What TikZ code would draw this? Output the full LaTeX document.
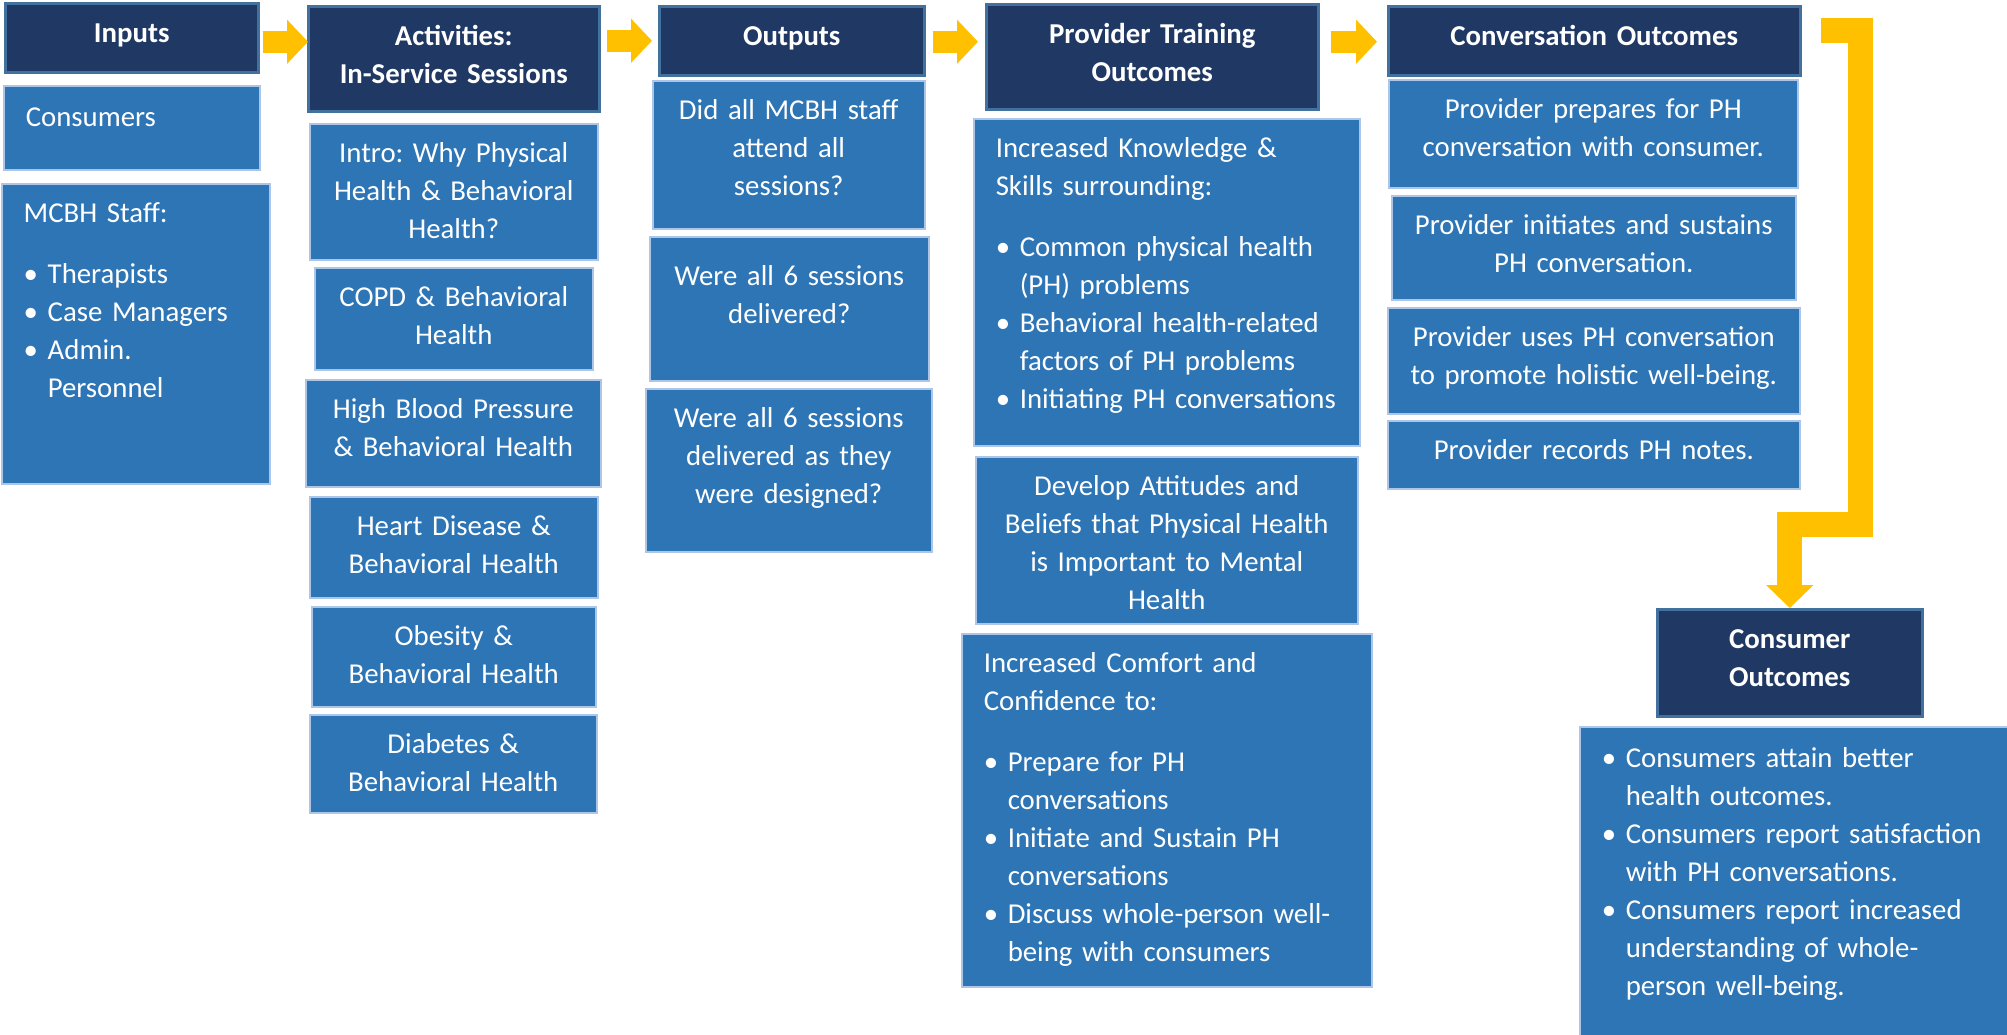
\documentclass[tikz,border=0pt]{standalone}
\usepackage{fontspec}
\setmainfont{Carlito}
\usetikzlibrary{arrows.meta}
\usetikzlibrary{calc}
\frenchspacing

\definecolor{hdrfill}{HTML}{203864}
\definecolor{hdrline}{HTML}{41719C}
\definecolor{blkfill}{HTML}{2E75B6}
\definecolor{blkline}{HTML}{ADC5E7}
\definecolor{flowc}{HTML}{FFC000}

\newcommand{\boxfont}{\fontsize{28.8}{38}\selectfont}
\newcommand{\bitem}[1]{\hangindent=24pt\hangafter=1\noindent\makebox[24pt][l]{\textbullet}#1\par}

\tikzset{
  hdr/.style={anchor=north west, draw=hdrline, line width=2.5pt, fill=hdrfill, text=white, font=\boxfont\bfseries, align=center, inner xsep=6pt, inner ysep=0pt, text height=39pt},
  blk/.style={anchor=north west, draw=blkline, line width=1.5pt, fill=blkfill, text=white, font=\boxfont, align=center, inner xsep=6pt, inner ysep=0pt, text height=39pt},
  blkl/.style={blk, align=left, inner xsep=10pt, execute at begin node={\leftskip=12pt}},
  flow/.style={draw=flowc, line width=22pt, -{Triangle[length=21pt,width=43pt]}},
  elbow/.style={draw=flowc, line width=25pt, -{Triangle[length=23pt,width=46pt]}},
}

\begin{document}
\begin{tikzpicture}[x=1pt,y=-1pt]
\path[use as bounding box, fill=white] (0,0) rectangle (2007,1034);

% headers
\node[hdr, text width=241pt, text depth=30pt] (inp) at (4,2) {Inputs};
\node[hdr, text width=279pt, text depth=66pt] (act) at (307,5) {Activities:\\In-Service Sessions};
\node[hdr, text width=253pt, text depth=30pt] (outp) at (658,5) {Outputs};
\node[hdr, text width=320pt, text depth=66pt] (pto) at (985,3) {Provider Training\\Outcomes};
\node[hdr, text width=400pt, text depth=30pt] (cvo) at (1387,5) {Conversation Outcomes};
\node[hdr, text width=253pt, text depth=68pt] (cso) at (1656,608) {Consumer\\Outcomes};

% inputs
\node[blkl, text width=236pt, text height=41pt, text depth=43pt] (cons) at (3,85) {Consumers};
\node[blkl, text width=248pt, text depth=261pt] (staff) at (1,183) {MCBH Staff:\par\vspace{23pt}
  \bitem{Therapists}
  \bitem{Case Managers}
  \bitem{Admin.\newline Personnel}};

% sessions
\node[blk, text width=276pt, text depth=97pt] (intro) at (309,123) {Intro: Why Physical\\Health \& Behavioral\\Health?};
\node[blk, text width=266pt, text depth=63pt] (copd) at (314,267) {COPD \& Behavioral\\Health};
\node[blk, text width=283pt, text depth=68pt] (hbp) at (305,379) {High Blood Pressure\\\& Behavioral Health};
\node[blk, text width=276pt, text depth=62pt] (heart) at (309,496) {Heart Disease \&\\Behavioral Health};
\node[blk, text width=272pt, text depth=61pt] (obes) at (311,606) {Obesity \&\\Behavioral Health};
\node[blk, text width=275pt, text depth=59pt] (diab) at (309,714) {Diabetes \&\\Behavioral Health};

% outputs
\node[blk, text width=260pt, text depth=109pt] (did) at (652,80) {Did all MCBH staff\\attend all\\sessions?};
\node[blk, text width=267pt, text height=49pt, text depth=95pt] (were) at (649,236) {Were all 6 sessions\\delivered?};
\node[blk, text width=274pt, text depth=124pt] (design) at (645,388) {Were all 6 sessions\\delivered as they\\were designed?};

% provider training
\node[blkl, text width=366pt, text depth=288pt] (know) at (973,118) {Increased Knowledge \&\\Skills surrounding:\par\vspace{23pt}
  \bitem{Common physical health\newline (PH) problems}
  \bitem{Behavioral health-related\newline factors of PH problems}
  \bitem{Initiating PH conversations}};
\node[blk, text width=370pt, text depth=128pt] (attit) at (975,456) {Develop Attitudes and\\Beliefs that Physical Health\\is Important to Mental\\Health};
\node[blkl, text width=390pt, text depth=314pt] (comf) at (961,633) {Increased Comfort and\\Confidence to:\par\vspace{23pt}
  \bitem{Prepare for PH\newline conversations}
  \bitem{Initiate and Sustain PH\newline conversations}
  \bitem{Discuss whole-person well-\newline being with consumers}};

% conversation
\node[blk, text width=397pt, text depth=69pt] (cv1) at (1388,79) {Provider prepares for PH\\conversation with consumer.};
\node[blk, text width=392pt, text depth=65pt] (cv2) at (1391,195) {Provider initiates and sustains\\PH conversation.};
\node[blk, text width=400pt, text depth=67pt] (cv3) at (1387,307) {Provider uses PH conversation\\to promote holistic well-being.};
\node[blk, text width=400pt, text depth=29pt] (cv4) at (1387,420) {Provider records PH notes.};

% consumer
\node[blkl, text width=410pt, text height=41pt, text depth=269pt] (csb) at (1579,726) {\bitem{Consumers attain better\newline health outcomes.}
  \bitem{Consumers report satisfaction\newline with PH conversations.}
  \bitem{Consumers report increased\newline understanding of whole-\newline person well-being.}};

% arrows
\draw[flow] ($(inp.east)+(3,4)$) -- ($(act.west)+(1,-17)$);
\draw[flow] ($(act.east)+(6,-18)$) -- ($(outp.west)+(-6,0)$);
\draw[flow] ($(outp.east)+(7,1)$) -- ($(pto.west)+(-7,-15)$);
\draw[flow] ($(pto.east)+(11,-15)$) -- ($(cvo.west)+(-10,1)$);
\coordinate (bend) at (1860.5,524);
\draw[elbow] ($(cvo.east)+(19,-10)$) -| (bend) -| (cso.north);

\end{tikzpicture}
\end{document}
